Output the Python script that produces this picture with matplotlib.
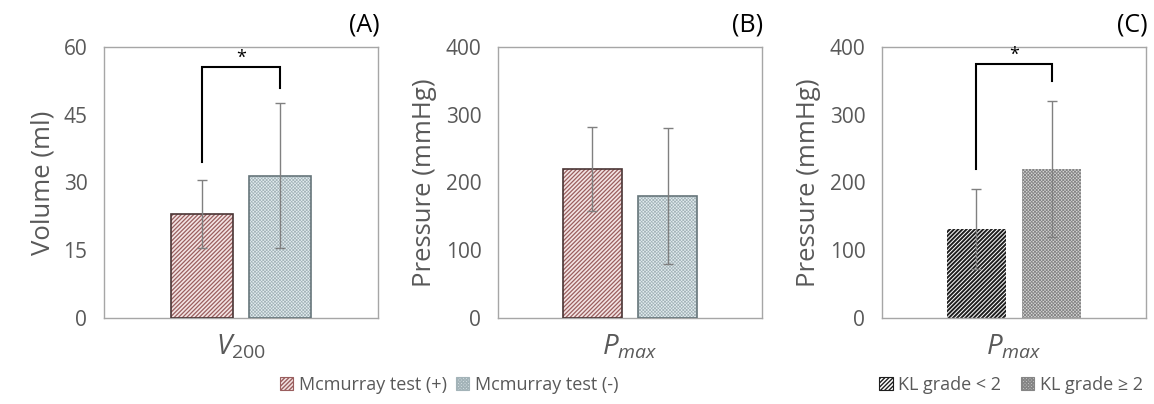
import matplotlib
matplotlib.use("Agg")
import matplotlib.pyplot as plt
import matplotlib.patches as mpatches
import numpy as np

plt.rcParams["font.family"] = ["Open Sans", "DejaVu Sans"]
plt.rcParams["mathtext.fontset"] = "custom"
plt.rcParams["mathtext.rm"] = "Open Sans"
plt.rcParams["mathtext.it"] = "Open Sans:italic"

# ---- data ----
mcm_labels = ["Mcmurray test (+)", "Mcmurray test (-)"]
kl_labels = ["KL grade < 2", "KL grade \u2265 2"]

v200_mean = [23.0, 31.5]
v200_sd = [7.5, 16.1]

pmax_mcm_mean = [220, 180]
pmax_mcm_sd = [62, 100]

pmax_kl_mean = [131, 220]
pmax_kl_sd = [59, 100]

# significance brackets: (top, left leg end, right leg end)
sig_a = (55.5, 34.5, 51.0)
sig_c = (375, 220, 350)

GREY_TXT = "#595959"
W, H = 1154, 404

# bar styles: face, hatch colour, hatch, hatch width, outline
mcm_styles = [
    dict(face="#f3e4e4", hcol="#9a5e5e", hatch="////////", hlw=0.9, edge="#4a3535"),
    dict(face="#e4edf0", hcol="#a3b3b8", hatch="xxxxxxxxxx", hlw=0.5, edge="#66757a"),
]
kl_styles = [
    dict(face="white", hcol="#1e1e1e", hatch="////////", hlw=1.4, edge="none"),
    dict(face="#d6d6d6", hcol="#858585", hatch="xxxxxxxxxx", hlw=0.6, edge="none"),
]

fig = plt.figure(figsize=(W / 100, H / 100), dpi=100)


def px_axes(left, right, top=47, bottom=318):
    return fig.add_axes([left / W, 1 - bottom / H, (right - left) / W, (bottom - top) / H])


def panel(ax, means, sds, styles, ylim, step, ylabel, xlabel, tag, sig=None):
    x = (np.arange(len(means)) - 0.5) * 0.57
    width = 0.45
    for xi, m, st in zip(x, means, styles):
        with plt.rc_context({"hatch.linewidth": st["hlw"]}):
            ax.bar(xi, m, width, color=st["face"], edgecolor=st["hcol"], hatch=st["hatch"],
                   linewidth=0, zorder=2)
        if st["edge"] != "none":
            ax.bar(xi, m, width, color="none", edgecolor=st["edge"], linewidth=1.2, zorder=3)
    ax.errorbar(x, means, yerr=sds, fmt="none", ecolor="#808080", elinewidth=1,
                capsize=3.5, capthick=1, zorder=4)
    ax.set_xlim(-1, 1)
    ax.set_ylim(*ylim)
    ax.set_yticks(np.arange(ylim[0], ylim[1] + step, step))
    ax.set_xticks([])
    ax.tick_params(axis="y", length=0, pad=12, labelsize=15, labelcolor=GREY_TXT)
    for s in ax.spines.values():
        s.set_color("#a6a6a6")
        s.set_linewidth(1)
    ax.set_ylabel(ylabel, fontsize=18.5, color=GREY_TXT, labelpad=6)
    ax.set_xlabel(xlabel, fontsize=20, color=GREY_TXT, labelpad=11)
    ax.text(1.005, 1.08, tag, transform=ax.transAxes, ha="right", va="center", fontsize=18)
    if sig is not None:
        top, l_end, r_end = sig
        ax.plot([x[0], x[0], x[1], x[1]], [l_end, top, top, r_end], color="black",
                lw=1.5, zorder=5, solid_joinstyle="miter")
        ax.text(x.mean(), top, "*", ha="center", va="bottom", fontsize=13)


ax_a = px_axes(104, 378)
ax_b = px_axes(498, 762)
ax_c = px_axes(882, 1146)

panel(ax_a, v200_mean, v200_sd, mcm_styles, (0, 60), 15, "Volume (ml)",
      r"$V_{\mathit{200}}$", "(A)", sig_a)
panel(ax_b, pmax_mcm_mean, pmax_mcm_sd, mcm_styles, (0, 400), 100, "Pressure (mmHg)",
      r"$P_{max}$", "(B)")
panel(ax_c, pmax_kl_mean, pmax_kl_sd, kl_styles, (0, 400), 100, "Pressure (mmHg)",
      r"$P_{max}$", "(C)", sig_c)


def handles(labels, styles):
    out = []
    for lab, st in zip(labels, styles):
        with plt.rc_context({"hatch.linewidth": st["hlw"]}):
            out.append(mpatches.Patch(facecolor=st["face"], edgecolor=st["hcol"],
                                      hatch=st["hatch"], linewidth=0.8, label=lab))
    return out


fig.legend(handles=handles(mcm_labels, mcm_styles), loc="center",
           bbox_to_anchor=(449 / W, 1 - 385 / H), ncol=2, frameon=False, fontsize=13,
           handlelength=0.75, handleheight=0.75, handletextpad=0.3, columnspacing=0.5,
           labelcolor=GREY_TXT)
fig.legend(handles=handles(kl_labels, kl_styles), loc="center",
           bbox_to_anchor=(1011 / W, 1 - 385 / H), ncol=2, frameon=False, fontsize=13,
           handlelength=0.75, handleheight=0.75, handletextpad=0.3, columnspacing=1.1,
           labelcolor=GREY_TXT)

fig.savefig("out.png", dpi=100)
